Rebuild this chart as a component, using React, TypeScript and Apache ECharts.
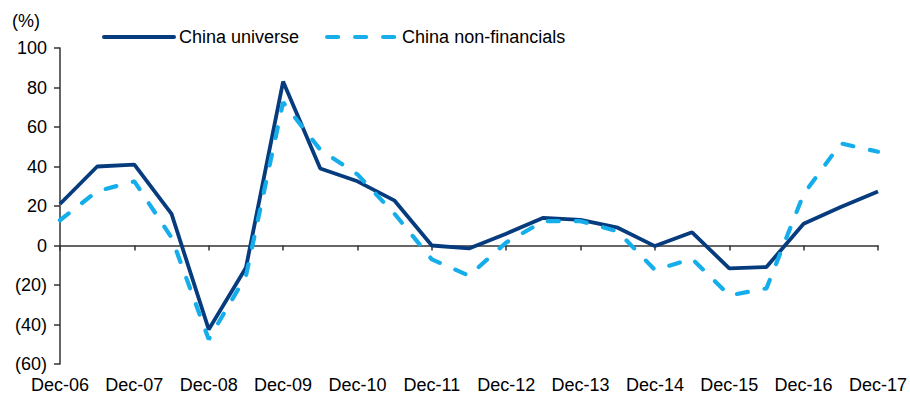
import React, { useEffect, useRef } from "react";
import * as echarts from "echarts";

const categories = [
  "Dec-06", "Jun-07", "Dec-07", "Jun-08", "Dec-08", "Jun-09", "Dec-09", "Jun-10",
  "Dec-10", "Jun-11", "Dec-11", "Jun-12", "Dec-12", "Jun-13", "Dec-13", "Jun-14",
  "Dec-14", "Jun-15", "Dec-15", "Jun-16", "Dec-16", "Jun-17", "Dec-17",
];

const chinaUniverse = [
  21, 40, 41, 16, -42.5, -11.3, 83, 39, 32.5, 22.7, 0, -1.5, 6, 14, 13, 9,
  -0.3, 6.7, -11.6, -10.9, 11, 19.5, 27.3,
];

const chinaNonFinancials = [
  12.8, 27.5, 32.5, 4, -47.5, -15.5, 72.5, 48.5, 36, 16, -7, -15.3, 1.5, 12.3, 12.3, 7.2,
  -12.4, -6.7, -25.3, -21.7, 26, 51.7, 47.5,
];

const seriesNames = ["China universe", "China non-financials"];
const yMin = -60;
const yMax = 100;
const yStep = 20;

const FONT = "'Liberation Sans', Arial, Helvetica, sans-serif";
const AXIS_COLOR = "#333333";
const SOLID_COLOR = "#063C7D";
const DASH_COLOR = "#15AEEB";

const legendBase = {
  top: 28,
  padding: 0,
  itemWidth: 70,
  itemHeight: 18,
  itemGap: 0,
  itemStyle: { opacity: 0 },
  textStyle: { fontSize: 18, color: "#000", fontFamily: FONT },
  selectedMode: false,
};

export default function App() {
  const ref = useRef<HTMLDivElement>(null);

  useEffect(() => {
    if (!ref.current) return;
    const chart = echarts.init(ref.current, null, { renderer: "svg" });
    chart.setOption({
      animation: false,
      backgroundColor: "#ffffff",
      textStyle: { fontFamily: FONT },
      grid: { left: 60, right: 32, top: 48, bottom: 29, containLabel: false },
      graphic: [
        {
          type: "text",
          left: 12,
          top: 12,
          style: { text: "(%)", fontSize: 18, fontFamily: FONT, fill: "#000" },
        },
      ],
      legend: [
        {
          ...legendBase,
          data: [seriesNames[0]],
          left: 102,
          lineStyle: { width: 4, color: SOLID_COLOR, cap: "round" },
        },
        {
          ...legendBase,
          data: [seriesNames[1]],
          left: 325,
          lineStyle: { width: 4.2, color: DASH_COLOR, type: [11, 17], cap: "round" },
        },
      ],
      xAxis: [
        {
          type: "category",
          data: categories,
          boundaryGap: false,
          position: "bottom",
          axisLine: { show: false, onZero: false },
          axisTick: { show: false },
          splitLine: { show: false },
          axisLabel: {
            interval: 1,
            fontSize: 18,
            color: "#000",
            margin: 12,
            fontFamily: FONT,
          },
        },
        {
          type: "category",
          data: categories,
          boundaryGap: false,
          position: "top",
          axisLine: { show: true, onZero: true, lineStyle: { color: AXIS_COLOR, width: 1.5 } },
          axisTick: {
            show: true,
            inside: true,
            interval: 1,
            length: 5,
            lineStyle: { color: AXIS_COLOR, width: 1.5 },
          },
          axisLabel: { show: false },
          splitLine: { show: false },
        },
      ],
      yAxis: {
        type: "value",
        min: yMin,
        max: yMax,
        interval: yStep,
        axisLine: { show: true, lineStyle: { color: AXIS_COLOR, width: 1.5 } },
        axisTick: { show: true, length: 6, lineStyle: { color: AXIS_COLOR, width: 1.5 } },
        splitLine: { show: false },
        axisLabel: {
          fontSize: 18,
          color: "#000",
          margin: 13,
          fontFamily: FONT,
          formatter: (v: number) => (v < 0 ? `(${-v})` : `${v}`),
        },
      },
      series: [
        {
          name: seriesNames[0],
          type: "line",
          xAxisIndex: 0,
          data: chinaUniverse,
          symbol: "none",
          color: SOLID_COLOR,
          lineStyle: { color: SOLID_COLOR, width: 3.8 },
        },
        {
          name: seriesNames[1],
          type: "line",
          xAxisIndex: 0,
          data: chinaNonFinancials,
          symbol: "none",
          color: DASH_COLOR,
          lineStyle: { color: DASH_COLOR, width: 4.2, type: [11, 17], cap: "round" },
        },
      ],
    });
    return () => chart.dispose();
  }, []);

  return (
    <div
      ref={ref}
      style={{ position: "fixed", left: 0, top: 0, width: 910, height: 394, background: "#fff" }}
    />
  );
}
